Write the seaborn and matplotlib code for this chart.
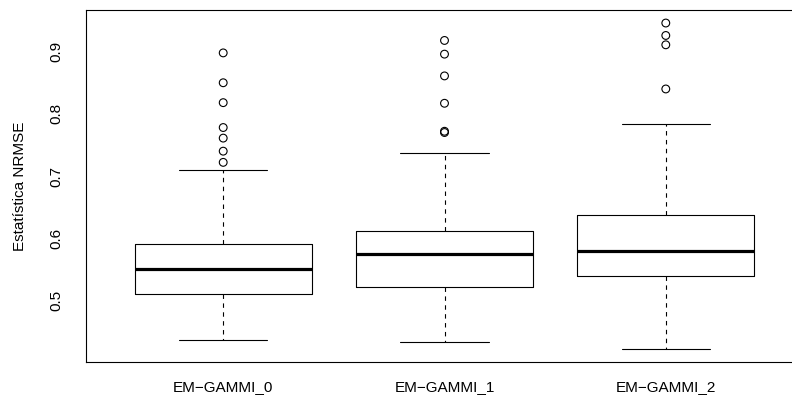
import matplotlib
matplotlib.use("Agg")
import matplotlib.pyplot as plt
import seaborn as sns
import pandas as pd

# values (R style)
groups = ["EM\u2212GAMMI_0", "EM\u2212GAMMI_1", "EM\u2212GAMMI_2"]
whis_low = [0.437, 0.433, 0.422]
q1 = [0.510, 0.521, 0.540]
medians = [0.551, 0.574, 0.580]
q3 = [0.590, 0.611, 0.638]
whis_high = [0.710, 0.737, 0.784]
outliers_0 = [0.722, 0.740, 0.761, 0.778, 0.818, 0.850, 0.898]
outliers_1 = [0.770, 0.772, 0.817, 0.861, 0.896, 0.918]
outliers_2 = [0.840, 0.911, 0.926, 0.946]
ylabel = "Estatística NRMSE"

sns.set_theme(style="white")
plt.rcParams['font.family'] = ['Liberation Sans', 'DejaVu Sans']

fig = plt.figure(figsize=(7.92, 4.03), dpi=100)
ax = fig.add_axes([86 / 792, 41 / 403, 717 / 792, 352 / 403])

# outliers through seaborn's categorical axis
out_df = pd.DataFrame({
    "grupo": [groups[0]] * len(outliers_0) + [groups[1]] * len(outliers_1) + [groups[2]] * len(outliers_2),
    "NRMSE": outliers_0 + outliers_1 + outliers_2,
})
sns.stripplot(data=out_df, x="grupo", y="NRMSE", order=groups, jitter=False,
              marker="o", size=5.6, color="black", facecolors="none",
              edgecolor="black", linewidth=0.8, ax=ax, zorder=3)

# boxes from the summary statistics
stats = []
for i, g in enumerate(groups):
    stats.append({"label": g, "whislo": whis_low[i], "q1": q1[i], "med": medians[i],
                  "q3": q3[i], "whishi": whis_high[i], "fliers": []})

ax.bxp(stats, positions=range(len(groups)), widths=0.8, capwidths=0.4,
       showfliers=False, manage_ticks=False, patch_artist=False,
       boxprops=dict(color="black", linewidth=0.8),
       medianprops=dict(color="black", linewidth=2.3, solid_capstyle="butt"),
       whiskerprops=dict(color="black", linewidth=0.8, linestyle=(0, (4, 4))),
       capprops=dict(color="black", linewidth=0.8))

# R-like axis ranges: 4% padding
all_vals = whis_low + outliers_0 + outliers_1 + outliers_2
lo, hi = min(all_vals), max(all_vals)
pad = (hi - lo) * 0.04
ax.set_ylim(lo - pad, hi + pad)
n = len(groups)
xpad = n * 0.04
ax.set_xlim(-0.5 - xpad, n - 0.5 + xpad)

ax.set_yticks([0.5, 0.6, 0.7, 0.8, 0.9])
ax.set_yticklabels(["0.5", "0.6", "0.7", "0.8", "0.9"], rotation=90, va="center")
ax.set_xticks(range(n))
ax.set_xticklabels(groups)
ax.tick_params(axis="both", which="both", direction="out", length=7, width=0.8,
               color="black", labelsize=11, labelcolor="black")
ax.tick_params(axis="y", pad=9)
ax.tick_params(axis="x", pad=6)
ax.set_xlabel("")
ax.set_ylabel(ylabel, fontsize=11, color="black")
ax.yaxis.set_label_coords(-0.082, 0.5)
for s in ax.spines.values():
    s.set_color("black")
    s.set_linewidth(0.8)
ax.grid(False)

fig.savefig("out.png", dpi=100)
